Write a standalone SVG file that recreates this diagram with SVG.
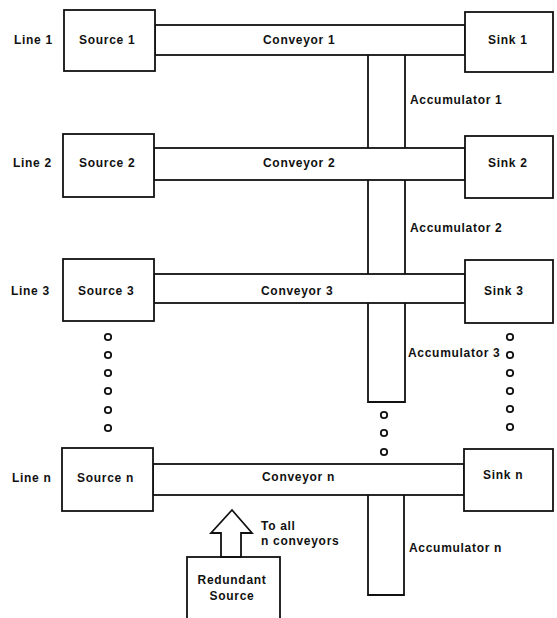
<svg xmlns="http://www.w3.org/2000/svg" width="557" height="618" viewBox="0 0 557 618">
<style>
.b{fill:#fff;stroke:#111;stroke-width:1.8}
.l{fill:none;stroke:#111;stroke-width:1.8}
.d{fill:none;stroke:#111;stroke-width:1.8}
text{font-family:"Liberation Sans",Arial,sans-serif;font-size:12px;font-weight:bold;fill:#111;letter-spacing:0.7px}
</style>
<rect width="557" height="618" fill="#fff"/>
<g id="labels">
<text x="14" y="44">Line 1</text>
<text x="13" y="167">Line 2</text>
<text x="11" y="295">Line 3</text>
<text x="12" y="482">Line n</text>
</g>
<g id="accumulators">
<g id="accumulator1"><line class="l" x1="368" y1="55" x2="368" y2="148"/><line class="l" x1="405" y1="55" x2="405" y2="148"/><text x="410" y="104">Accumulator 1</text></g>
<g id="accumulator2"><line class="l" x1="368" y1="180" x2="368" y2="274"/><line class="l" x1="405" y1="180" x2="405" y2="274"/><text x="410" y="232">Accumulator 2</text></g>
<g id="accumulator3"><path class="l" d="M368,303 V402 H405 V303"/><text x="408" y="357">Accumulator 3</text></g>
<g id="accumulatorn"><path class="l" d="M368,495 V595 H404 V495"/><text x="409" y="552">Accumulator n</text></g>
</g>
<g id="conveyors">
<g id="conveyor1"><rect class="b" x="155" y="25" width="310" height="30"/><text x="263" y="44">Conveyor 1</text></g>
<g id="conveyor2"><rect class="b" x="154" y="148" width="311" height="32"/><text x="263" y="167">Conveyor 2</text></g>
<g id="conveyor3"><rect class="b" x="154" y="274" width="311" height="29"/><text x="261" y="295">Conveyor 3</text></g>
<g id="conveyorn"><rect class="b" x="153" y="464" width="311" height="31"/><text x="262" y="481">Conveyor n</text></g>
</g>
<g id="source1"><rect class="b" x="64" y="10" width="91" height="61"/><text x="79" y="44">Source 1</text></g>
<g id="source2"><rect class="b" x="63" y="134" width="91" height="63"/><text x="79" y="167">Source 2</text></g>
<g id="source3"><rect class="b" x="63" y="259" width="91" height="62"/><text x="78" y="295">Source 3</text></g>
<g id="sourcen"><rect class="b" x="62" y="448" width="91" height="63"/><text x="77" y="482">Source n</text></g>
<g id="sink1"><rect class="b" x="465" y="12" width="88" height="60"/><text x="488" y="44">Sink 1</text></g>
<g id="sink2"><rect class="b" x="465" y="136" width="88" height="62"/><text x="488" y="167">Sink 2</text></g>
<g id="sink3"><rect class="b" x="465" y="260" width="88" height="63"/><text x="484" y="295">Sink 3</text></g>
<g id="sinkn"><rect class="b" x="464" y="449" width="89" height="62"/><text x="483" y="479">Sink n</text></g>
<g id="redundant-source"><rect class="b" x="187" y="557" width="93" height="70"/><text x="232" y="584" text-anchor="middle">Redundant</text><text x="232" y="600" text-anchor="middle">Source</text></g>
<g id="connectors">
<path class="b" d="M232,510 L252,533 H241 V557 H221 V533 H211 Z"/>
<text x="261" y="530">To all</text>
<text x="261" y="545">n conveyors</text>
</g>
<g id="dots">
<circle class="d" cx="108" cy="337" r="3.2"/><circle class="d" cx="108" cy="355" r="3.2"/><circle class="d" cx="108" cy="373" r="3.2"/><circle class="d" cx="108" cy="391" r="3.2"/><circle class="d" cx="108" cy="410" r="3.2"/><circle class="d" cx="108" cy="428" r="3.2"/>
<circle class="d" cx="510" cy="337" r="3.2"/><circle class="d" cx="510" cy="355" r="3.2"/><circle class="d" cx="510" cy="373" r="3.2"/><circle class="d" cx="510" cy="391" r="3.2"/><circle class="d" cx="510" cy="409" r="3.2"/><circle class="d" cx="510" cy="427" r="3.2"/>
<circle class="d" cx="384" cy="415" r="3.2"/><circle class="d" cx="384" cy="433" r="3.2"/><circle class="d" cx="384" cy="452" r="3.2"/>
</g>
</svg>
